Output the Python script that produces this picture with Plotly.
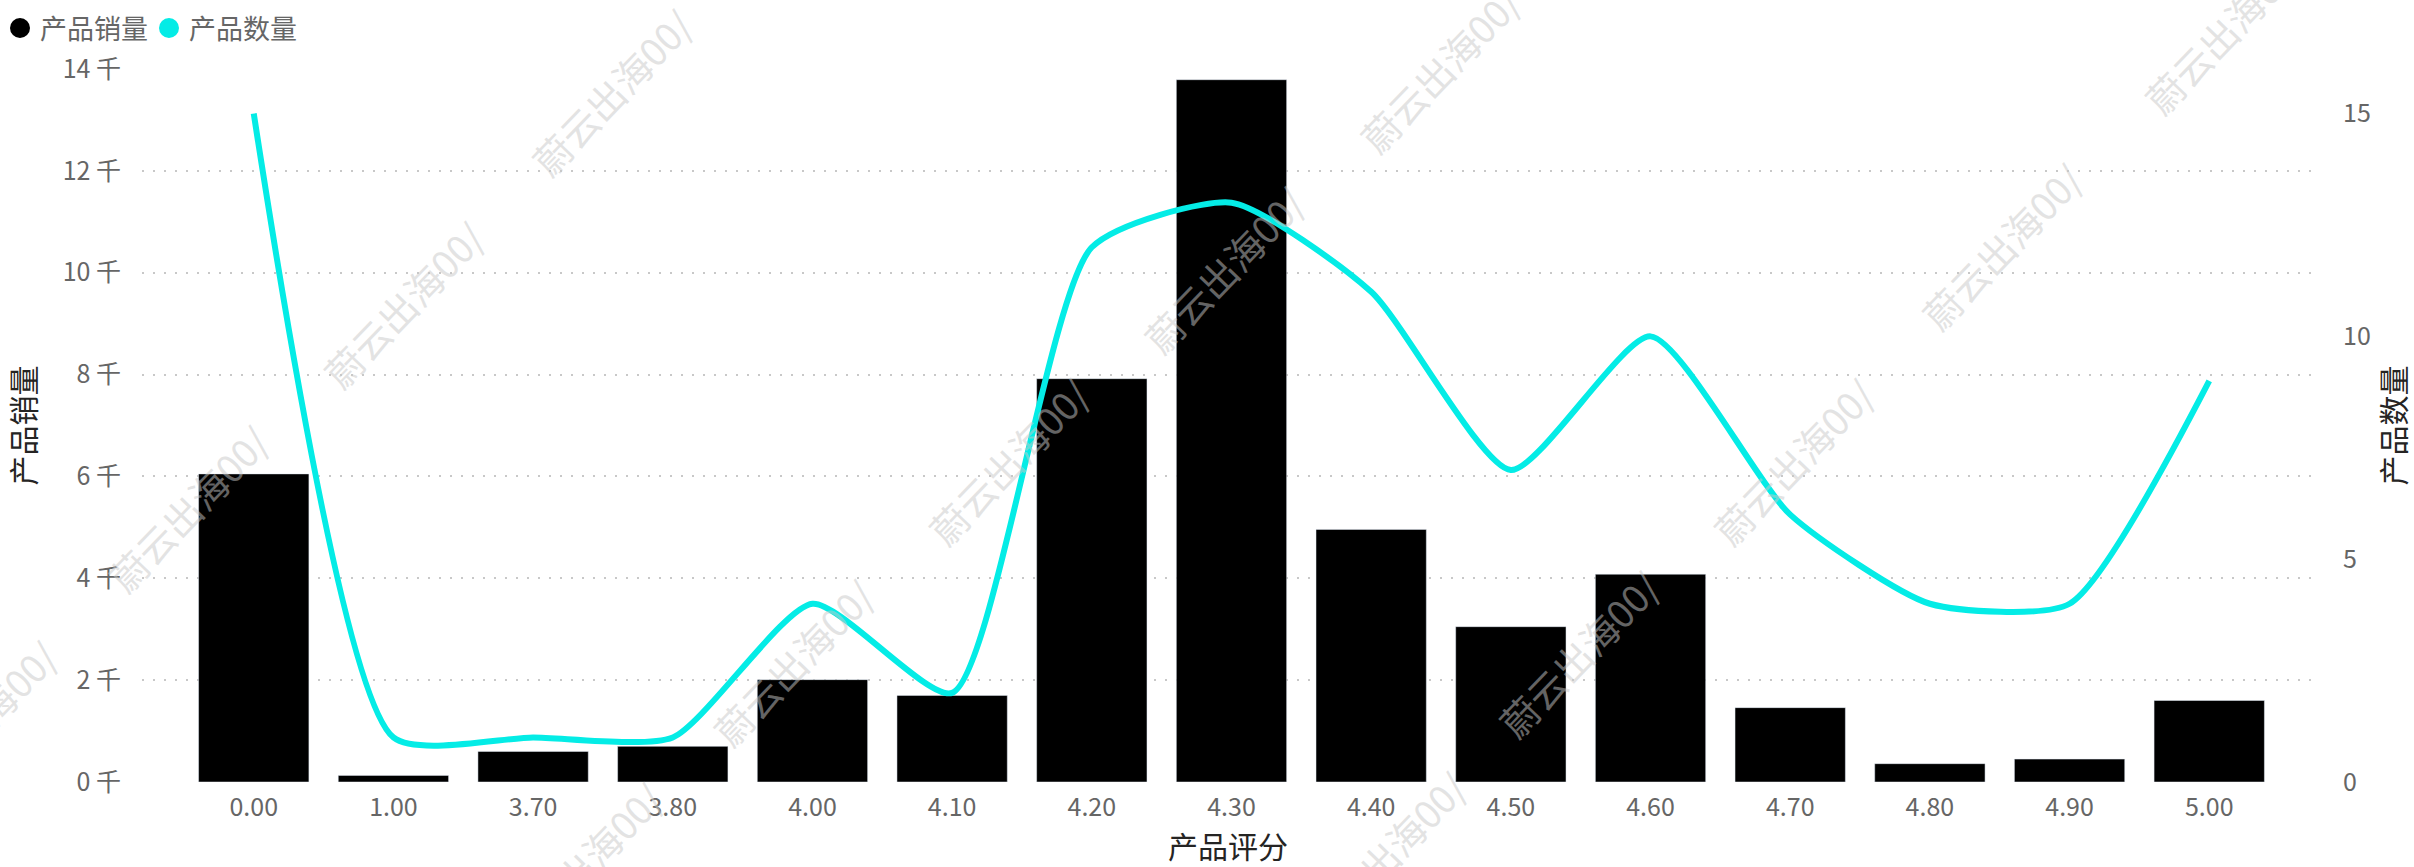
import plotly.graph_objects as go

# ---- data ----
ratings = ["0.00", "1.00", "3.70", "3.80", "4.00", "4.10", "4.20", "4.30",
           "4.40", "4.50", "4.60", "4.70", "4.80", "4.90", "5.00"]
sales = [6050, 130, 600, 700, 2010, 1700, 7920, 13790,
         4960, 3050, 4080, 1460, 360, 450, 1600]
counts = [15, 1, 1, 1, 4, 2, 12, 13, 11, 7, 10, 6, 4, 4, 9]
left_tickvals = [0, 2000, 4000, 6000, 8000, 10000, 12000, 14000]
left_ticktext = ["0 千", "2 千", "4 千", "6 千", "8 千", "10 千", "12 千", "14 千"]
right_tickvals = [0, 5, 10, 15]
watermark_text = "蔚云出海00/"

# ---- layout geometry (pixels) ----
W, H = 2414, 867
L, R, T, B = 142, 2314, 69, 782
FONT = "Segoe UI, 'Noto Sans CJK SC', sans-serif"
GRAY = "#666666"
DARK = "#252423"
CYAN = "#04ECE6"


def px2paper(px, py):
    return (px - L) / (R - L), (B - py) / (B - T)


fig = go.Figure()
fig.add_trace(go.Bar(
    x=ratings, y=sales, name="产品销量", marker_color="#000000",
    showlegend=False, yaxis="y"))
fig.add_trace(go.Scatter(
    x=ratings, y=counts, name="产品数量", mode="lines",
    line=dict(color=CYAN, width=6, shape="spline", smoothing=0.6),
    showlegend=False, yaxis="y2"))
# legend entries with round markers
fig.add_trace(go.Scatter(x=[None], y=[None], mode="markers", name="产品销量",
                         legend="legend",
                         marker=dict(color="#000000", size=16, symbol="circle",
                                     line=dict(color="#000000", width=4))))
fig.add_trace(go.Scatter(x=[None], y=[None], mode="markers", name="产品数量",
                         legend="legend2",
                         marker=dict(color=CYAN, size=16, symbol="circle",
                                     line=dict(color=CYAN, width=4))))

# watermark centres (pixels, measured on a 1568-wide view)
s = 2414 / 1568
wm_display = [(397, 60), (262, 198), (122, 330), (-15, 470),
              (935, 45), (795, 175), (655, 300), (515, 430), (378, 562),
              (1445, 20), (1300, 160), (1165, 300), (1025, 425), (900, 555)]
annotations = []
for dx, dy in wm_display:
    ax_, ay_ = px2paper(dx * s, dy * s)
    annotations.append(dict(
        text=watermark_text, x=ax_, y=ay_, xref="paper", yref="paper",
        xanchor="center", yanchor="middle",
        showarrow=False, textangle=-46,
        font=dict(family=FONT, size=38, color="rgba(200,200,200,0.5)")))

lx1, ly = px2paper(0, 4)
lx2, _ = px2paper(149, 4)
legend_style = dict(orientation="h", y=ly, xanchor="left", yanchor="top",
                    font=dict(family=FONT, size=27, color=GRAY),
                    itemsizing="trace", bgcolor="rgba(0,0,0,0)")
fig.update_layout(
    width=W, height=H,
    margin=dict(l=L, r=W - R, t=T, b=H - B, autoexpand=False),
    paper_bgcolor="white", plot_bgcolor="white",
    font=dict(family=FONT, size=24, color=GRAY),
    bargap=0.21,
    showlegend=True,
    legend=dict(x=lx1, **legend_style),
    legend2=dict(x=lx2, **legend_style),
    xaxis=dict(type="category", range=[-0.8, 14.75], showgrid=False,
               zeroline=False, showline=False, ticks="",
               tickfont=dict(family=FONT, size=25, color=GRAY),
               ticklabelstandoff=8,
               title=dict(text="产品评分", standoff=14,
                          font=dict(family=FONT, size=30, color=DARK))),
    yaxis=dict(range=[0, 14000], tickvals=left_tickvals, ticktext=left_ticktext,
               showgrid=True, gridcolor="#C8C8C8", gridwidth=2, griddash="2px,9px",
               zeroline=False, showline=False, ticks="",
               ticklabelstandoff=20,
               tickfont=dict(family=FONT, size=25, color=GRAY),
               title=dict(text="产品销量", standoff=22,
                          font=dict(family=FONT, size=30, color=DARK))),
    yaxis2=dict(range=[0, 16], tickvals=right_tickvals, overlaying="y", side="right",
                showgrid=False, zeroline=False, showline=False, ticks="",
                ticklabelstandoff=28,
                tickfont=dict(family=FONT, size=25, color=GRAY),
                title=dict(text="产品数量", standoff=20,
                           font=dict(family=FONT, size=30, color=DARK))),
    annotations=annotations,
)

fig.write_html("out.html", config={"displayModeBar": False},
               post_script="document.body.style.margin='0';")
